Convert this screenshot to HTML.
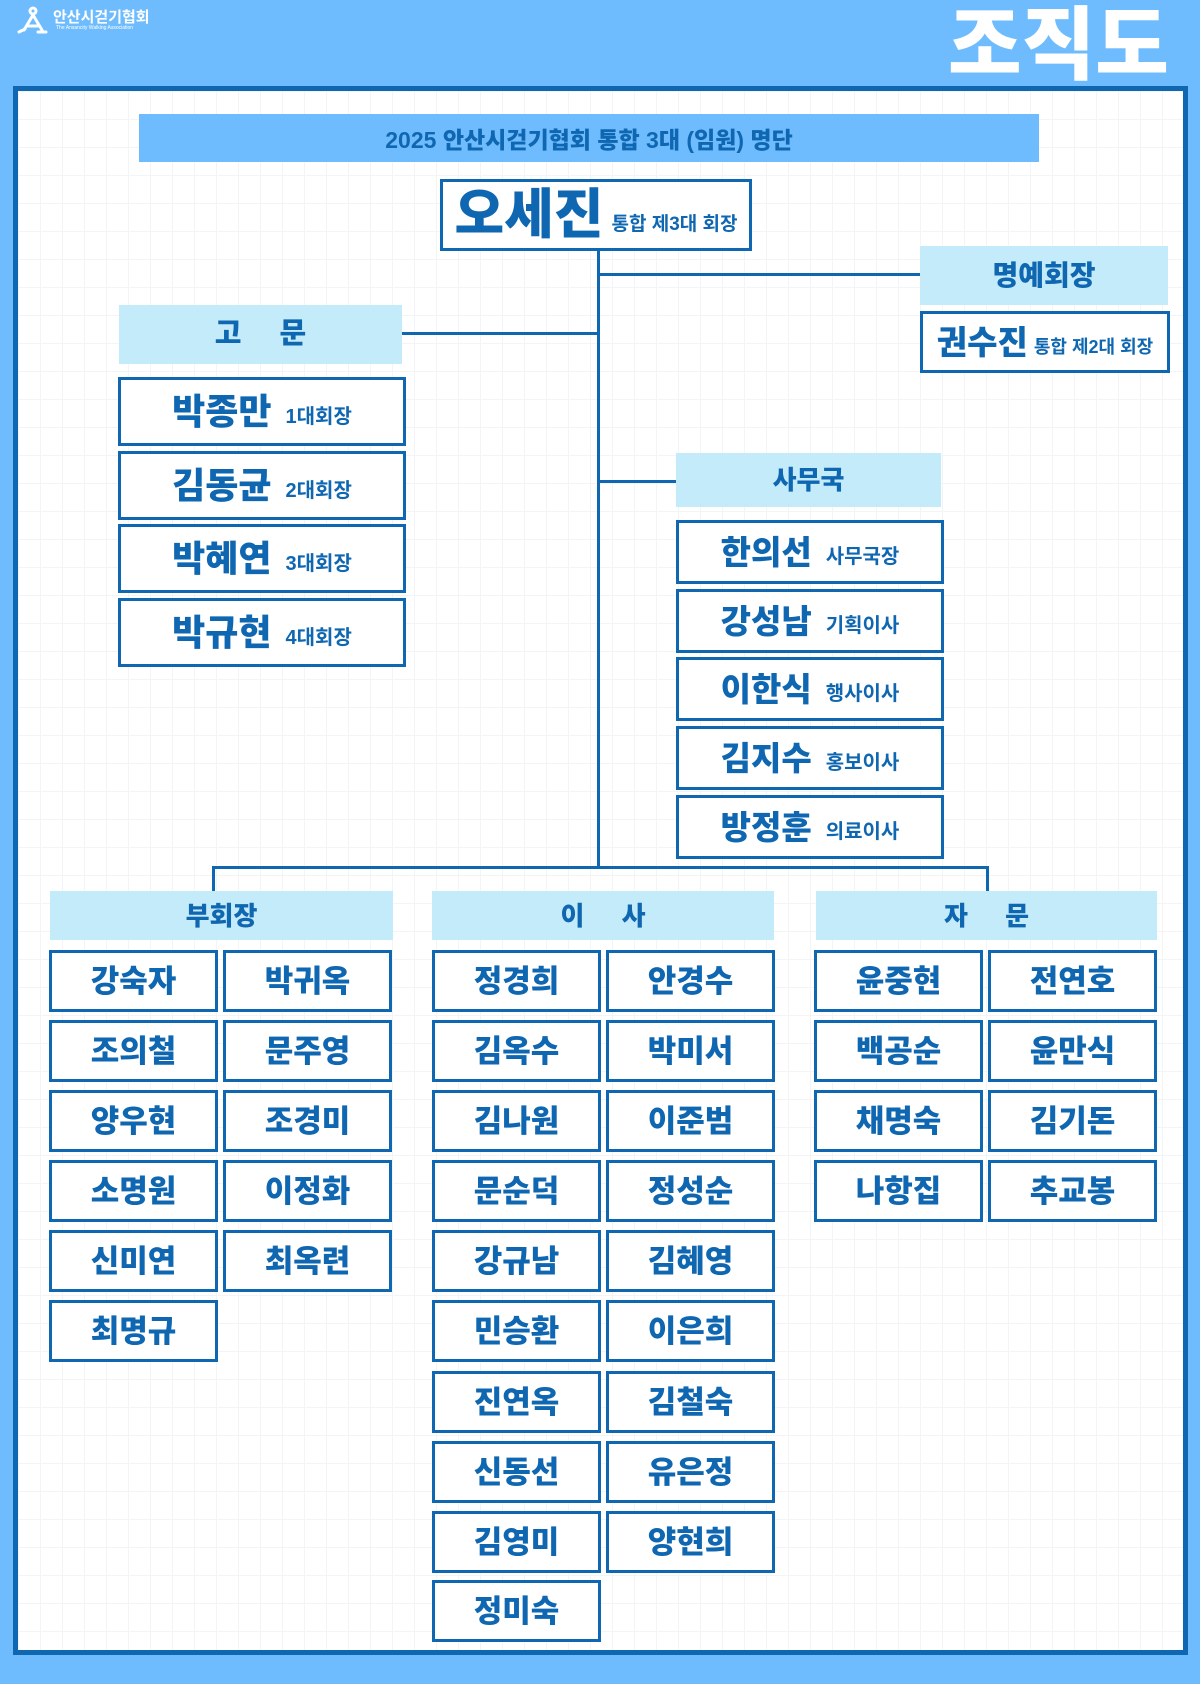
<!DOCTYPE html>
<html><head><meta charset="utf-8"><style>
*{margin:0;padding:0;box-sizing:border-box}
body{width:1200px;height:1684px;background:#6ebcfd;position:relative;overflow:hidden;font-family:"Liberation Sans","Noto Sans CJK KR",sans-serif;color:#0f67b1;font-weight:900}
.frame{position:absolute;left:13px;top:86px;width:1175px;height:1569px;border:5px solid #0f67b1;background-color:#fff;
background-image:linear-gradient(#f2f4f6 1px,transparent 1px),linear-gradient(90deg,#f2f4f6 1px,transparent 1px);background-size:22px 28px}
.a{position:absolute}
.box{position:absolute;border:3px solid #0f67b1;background:#fff;display:flex;align-items:center;justify-content:center;font-size:31px;line-height:1;white-space:nowrap}
.hd{position:absolute;background:#c4ebf9;display:flex;align-items:center;justify-content:center;font-size:26px;line-height:1;white-space:nowrap}
.ln{position:absolute;background:#0f67b1}
.sub{font-size:20px;font-weight:700;margin-left:14px;margin-top:10px}
</style></head><body>
<svg class="a" style="left:16px;top:6px" width="34" height="30" viewBox="0 0 34 30"><g stroke="#fff" stroke-width="3" fill="none" stroke-linecap="round"><circle cx="17" cy="5" r="3"/><path d="M17 9 L8 24 M17 9 L26 24 M11 20 L23 20 M3 26 L9 23 M22 26 L30 26"/></g></svg>
<div class="a" style="left:53px;top:6px;color:#fff;font-size:15px;font-weight:700">안산시걷기협회</div>
<div class="a" style="left:56px;top:25px;color:#fff;font-size:5px;font-weight:400">The Ansancity Walking Association</div>
<div class="a" style="left:948px;top:3px;color:#fff;font-size:80px;line-height:86px;letter-spacing:0px">조직도</div>
<div class="frame"></div>
<div class="a" style="left:139px;top:114px;width:900px;height:48px;background:#6ebcfd;display:flex;align-items:center;justify-content:center;font-size:23px;color:#0f67b1">2025 안산시걷기협회 통합 3대 (임원) 명단</div>
<div class="ln" style="left:597px;top:251px;width:3px;height:617px"></div>
<div class="ln" style="left:598px;top:273px;width:322px;height:3px"></div>
<div class="ln" style="left:402px;top:332px;width:196px;height:3px"></div>
<div class="ln" style="left:598px;top:480px;width:78px;height:3px"></div>
<div class="ln" style="left:212px;top:866px;width:777px;height:3px"></div>
<div class="ln" style="left:212px;top:866px;width:3px;height:25px"></div>
<div class="ln" style="left:986px;top:866px;width:3px;height:25px"></div>
<div class="box" style="left:440px;top:179px;width:312px;height:72px;font-size:54px"><span>오세진</span><span class="sub" style="font-size:19px;margin-left:8px;margin-top:18px">통합 제3대 회장</span></div>
<div class="hd" style="left:920px;top:246px;width:248px;height:59px;font-size:28px">명예회장</div>
<div class="box" style="left:920px;top:311px;width:250px;height:62px;font-size:33px"><span>권수진</span><span class="sub" style="font-size:18px;margin-left:6px">통합 제2대 회장</span></div>
<div class="hd" style="left:119px;top:305px;width:283px;height:59px;font-size:29px;word-spacing:30px">고 문</div>
<div class="box" style="left:118px;top:377px;width:288px;height:69px;font-size:36px"><span>박종만</span><span class="sub">1대회장</span></div>
<div class="box" style="left:118px;top:451px;width:288px;height:69px;font-size:36px"><span>김동균</span><span class="sub">2대회장</span></div>
<div class="box" style="left:118px;top:524px;width:288px;height:69px;font-size:36px"><span>박혜연</span><span class="sub">3대회장</span></div>
<div class="box" style="left:118px;top:598px;width:288px;height:69px;font-size:36px"><span>박규현</span><span class="sub">4대회장</span></div>
<div class="hd" style="left:676px;top:453px;width:265px;height:54px">사무국</div>
<div class="box" style="left:676px;top:520px;width:268px;height:64px;font-size:33px"><span>한의선</span><span class="sub">사무국장</span></div>
<div class="box" style="left:676px;top:589px;width:268px;height:64px;font-size:33px"><span>강성남</span><span class="sub">기획이사</span></div>
<div class="box" style="left:676px;top:657px;width:268px;height:64px;font-size:33px"><span>이한식</span><span class="sub">행사이사</span></div>
<div class="box" style="left:676px;top:726px;width:268px;height:64px;font-size:33px"><span>김지수</span><span class="sub">홍보이사</span></div>
<div class="box" style="left:676px;top:795px;width:268px;height:64px;font-size:33px"><span>방정훈</span><span class="sub">의료이사</span></div>
<div class="hd" style="left:50px;top:891px;width:343px;height:49px">부회장</div>
<div class="hd" style="left:432px;top:891px;width:342px;height:49px;word-spacing:30px">이 사</div>
<div class="hd" style="left:816px;top:891px;width:341px;height:49px;word-spacing:30px">자 문</div>
<div class="box" style="left:49px;top:950px;width:169px;height:62px">강숙자</div>
<div class="box" style="left:223px;top:950px;width:169px;height:62px">박귀옥</div>
<div class="box" style="left:49px;top:1020px;width:169px;height:62px">조의철</div>
<div class="box" style="left:223px;top:1020px;width:169px;height:62px">문주영</div>
<div class="box" style="left:49px;top:1090px;width:169px;height:62px">양우현</div>
<div class="box" style="left:223px;top:1090px;width:169px;height:62px">조경미</div>
<div class="box" style="left:49px;top:1160px;width:169px;height:62px">소명원</div>
<div class="box" style="left:223px;top:1160px;width:169px;height:62px">이정화</div>
<div class="box" style="left:49px;top:1230px;width:169px;height:62px">신미연</div>
<div class="box" style="left:223px;top:1230px;width:169px;height:62px">최옥련</div>
<div class="box" style="left:49px;top:1300px;width:169px;height:62px">최명규</div>
<div class="box" style="left:432px;top:950px;width:169px;height:62px">정경희</div>
<div class="box" style="left:606px;top:950px;width:169px;height:62px">안경수</div>
<div class="box" style="left:432px;top:1020px;width:169px;height:62px">김옥수</div>
<div class="box" style="left:606px;top:1020px;width:169px;height:62px">박미서</div>
<div class="box" style="left:432px;top:1090px;width:169px;height:62px">김나원</div>
<div class="box" style="left:606px;top:1090px;width:169px;height:62px">이준범</div>
<div class="box" style="left:432px;top:1160px;width:169px;height:62px">문순덕</div>
<div class="box" style="left:606px;top:1160px;width:169px;height:62px">정성순</div>
<div class="box" style="left:432px;top:1230px;width:169px;height:62px">강규남</div>
<div class="box" style="left:606px;top:1230px;width:169px;height:62px">김혜영</div>
<div class="box" style="left:432px;top:1300px;width:169px;height:62px">민승환</div>
<div class="box" style="left:606px;top:1300px;width:169px;height:62px">이은희</div>
<div class="box" style="left:432px;top:1371px;width:169px;height:62px">진연옥</div>
<div class="box" style="left:606px;top:1371px;width:169px;height:62px">김철숙</div>
<div class="box" style="left:432px;top:1441px;width:169px;height:62px">신동선</div>
<div class="box" style="left:606px;top:1441px;width:169px;height:62px">유은정</div>
<div class="box" style="left:432px;top:1511px;width:169px;height:62px">김영미</div>
<div class="box" style="left:606px;top:1511px;width:169px;height:62px">양현희</div>
<div class="box" style="left:432px;top:1580px;width:169px;height:62px">정미숙</div>
<div class="box" style="left:814px;top:950px;width:169px;height:62px">윤중현</div>
<div class="box" style="left:988px;top:950px;width:169px;height:62px">전연호</div>
<div class="box" style="left:814px;top:1020px;width:169px;height:62px">백공순</div>
<div class="box" style="left:988px;top:1020px;width:169px;height:62px">윤만식</div>
<div class="box" style="left:814px;top:1090px;width:169px;height:62px">채명숙</div>
<div class="box" style="left:988px;top:1090px;width:169px;height:62px">김기돈</div>
<div class="box" style="left:814px;top:1160px;width:169px;height:62px">나항집</div>
<div class="box" style="left:988px;top:1160px;width:169px;height:62px">추교봉</div>
</body></html>
